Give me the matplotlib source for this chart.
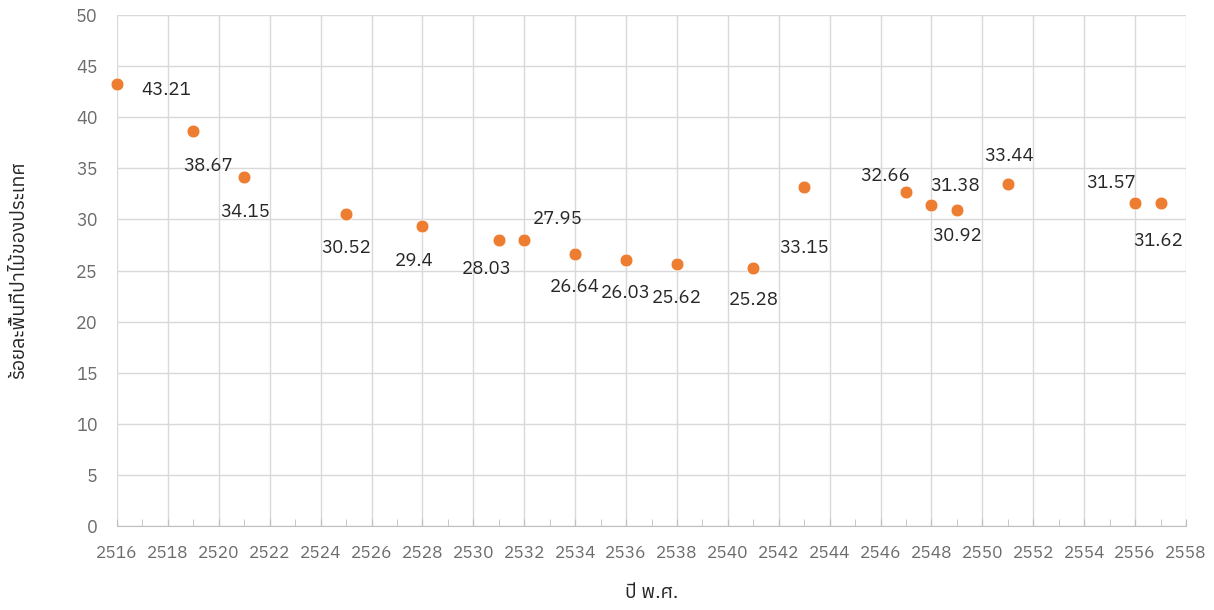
import matplotlib
matplotlib.use("Agg")
import matplotlib.pyplot as plt
from matplotlib import font_manager
from matplotlib.ft2font import FT2Font

# find a font that has Thai glyphs
thai_fonts = []
for f in font_manager.fontManager.ttflist:
    try:
        if 0x0E1B in FT2Font(f.fname).get_charmap():
            thai_fonts.append(f.name)
    except Exception:
        pass
thai_fonts = sorted(set(thai_fonts))

years = [2516, 2519, 2521, 2525, 2528, 2531, 2532, 2534, 2536, 2538,
         2541, 2543, 2547, 2548, 2549, 2551, 2556, 2557]
forest_pct = [43.21, 38.67, 34.15, 30.52, 29.4, 28.03, 27.95, 26.64, 26.03, 25.62,
              25.28, 33.15, 32.66, 31.38, 30.92, 33.44, 31.57, 31.62]
labels = ["43.21", "38.67", "34.15", "30.52", "29.4", "28.03", "27.95", "26.64", "26.03",
          "25.62", "25.28", "33.15", "32.66", "31.38", "30.92", "33.44", "31.57", "31.62"]

# label offsets in pixels (dx right, dy down) as Excel placed them
offsets = [(49, 6), (15, 35), (1, 35), (0, 34), (-8, 35), (-12, 29), (33, -21), (0, 33),
           (0, 33), (0, 34), (0, 32), (0, 61), (-21, -16), (24, -19), (0, 26), (1, -28),
           (-24, -20), (-2, 38)]

plt.rcParams["font.family"] = thai_fonts[:1] + ["DejaVu Sans"]

fig = plt.figure(figsize=(12.14, 6.10), dpi=100)
ax = fig.add_axes([117 / 1214, 84 / 610, (1186 - 117) / 1214, (526 - 15) / 610])

ax.scatter(years, forest_pct, s=85, color="#ED7D31", edgecolor="white", linewidth=0.5,
           zorder=3, clip_on=False)

for x, y, t, (dx, dy) in zip(years, forest_pct, labels, offsets):
    ax.annotate(t, (x, y), xytext=(dx * 0.72, -dy * 0.72), textcoords="offset points",
                ha="center", va="center", fontsize=13.5, color="#262626")

ax.set_xlim(2516, 2558)
ax.set_ylim(0, 50)
ax.set_xticks(range(2516, 2559, 2))
ax.set_xticks(range(2517, 2558, 2), minor=True)
ax.set_yticks(range(0, 51, 5))
ax.grid(True, color="#D9D9D9", linewidth=1)
ax.set_axisbelow(True)
for s in ["top", "right", "left"]:
    ax.spines[s].set_visible(False)
ax.spines["bottom"].set_color("#BFBFBF")
ax.tick_params(axis="x", which="both", direction="in", length=5, color="#BFBFBF",
               pad=14, labelsize=12.5, labelcolor="#6b6b6b")
ax.tick_params(axis="y", length=0, pad=14, labelsize=13, labelcolor="#6b6b6b")

ax.set_xlabel("ปี พ.ศ.", fontsize=14, color="#262626", labelpad=16)
ax.set_ylabel("ร้อยละพื้นที่ป่าไม้ของประเทศ", fontsize=14, color="#262626", labelpad=34)

fig.savefig("out.png", dpi=100)
